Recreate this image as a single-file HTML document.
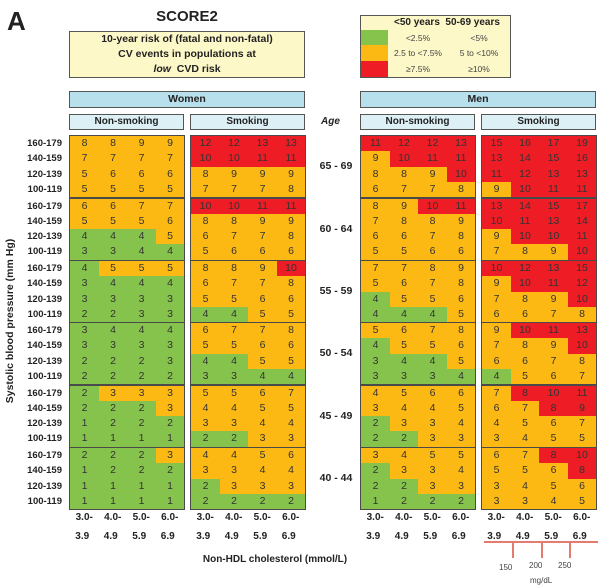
<!DOCTYPE html>
<html><head><meta charset="utf-8">
<style>
body{margin:0;background:#fff;}
#c{position:relative;width:600px;height:586px;overflow:hidden;font-family:"Liberation Sans",sans-serif;color:#222;}
.a{position:absolute;}
.box{position:absolute;box-sizing:border-box;border:1.5px solid #555;}
.t{position:absolute;font-weight:bold;font-size:10px;text-align:center;}
</style></head><body>
<div id="c">
<div class="a" style="left:7px;top:6px;font-size:26px;font-weight:bold;">A</div>
<div class="a" style="left:130px;top:8px;width:114px;text-align:center;font-size:15px;font-weight:bold;">SCORE2</div>
<div class="box" style="left:69px;top:31px;width:236px;height:47px;background:#fdf8c8;font-size:10.5px;font-weight:bold;text-align:center;line-height:15px;padding-top:0px;">10-year risk of (fatal and non-fatal)<br>CV events in populations at<br><i>low</i>&nbsp; CVD risk</div>
<div class="box" style="left:360px;top:15px;width:151px;height:63px;background:#fdf8c8;"></div>
<div class="a" style="left:361px;top:30px;width:27px;height:15px;background:#86c34c"></div>
<div class="a" style="left:361px;top:45px;width:27px;height:16px;background:#fdb913"></div>
<div class="a" style="left:361px;top:61px;width:27px;height:16px;background:#ee1c25"></div>
<div class="a" style="left:394px;top:17px;font-size:10px;font-weight:bold;">&lt;50 years&nbsp; 50-69 years</div>
<div class="a" style="left:389px;top:33px;width:58px;text-align:center;font-size:8.5px;color:#444">&lt;2.5%</div>
<div class="a" style="left:448px;top:33px;width:62px;text-align:center;font-size:8.5px;color:#444">&lt;5%</div>
<div class="a" style="left:389px;top:48px;width:58px;text-align:center;font-size:8.5px;color:#444">2.5 to &lt;7.5%</div>
<div class="a" style="left:448px;top:48px;width:62px;text-align:center;font-size:8.5px;color:#444">5 to &lt;10%</div>
<div class="a" style="left:389px;top:64px;width:58px;text-align:center;font-size:8.5px;color:#444">≥7.5%</div>
<div class="a" style="left:448px;top:64px;width:62px;text-align:center;font-size:8.5px;color:#444">≥10%</div>

<div class="box" style="left:69px;top:91px;width:236px;height:17px;background:#b8e0ec;font-size:10.5px;font-weight:bold;text-align:center;line-height:14px;">Women</div>
<div class="box" style="left:360px;top:91px;width:236px;height:17px;background:#b8e0ec;font-size:10.5px;font-weight:bold;text-align:center;line-height:14px;">Men</div>
<div class="box" style="left:69px;top:114px;width:115px;height:16px;background:#dcf0f6;font-size:10px;font-weight:bold;text-align:center;line-height:13px;">Non-smoking</div>
<div class="box" style="left:190px;top:114px;width:115px;height:16px;background:#dcf0f6;font-size:10px;font-weight:bold;text-align:center;line-height:13px;">Smoking</div>
<div class="box" style="left:360px;top:114px;width:115px;height:16px;background:#dcf0f6;font-size:10px;font-weight:bold;text-align:center;line-height:13px;">Non-smoking</div>
<div class="box" style="left:481px;top:114px;width:115px;height:16px;background:#dcf0f6;font-size:10px;font-weight:bold;text-align:center;line-height:13px;">Smoking</div>
<div class="a" style="left:321px;top:116px;font-size:10px;font-weight:bold;font-style:italic;">Age</div>
<div class="a" style="left:-80px;top:315px;width:180px;text-align:center;transform:rotate(-90deg);font-size:10.5px;font-weight:bold;">Systolic blood pressure (mm Hg)</div>
<div class="a" style="left:160px;top:554px;width:230px;text-align:center;font-size:10px;font-weight:bold;">Non-HDL cholesterol (mmol/L)</div>
<div class="a" style="left:484px;top:541px;width:114px;height:1.5px;background:#e57b6e"></div>
<div class="a" style="left:512px;top:541px;width:1.5px;height:17px;background:#e57b6e"></div>
<div class="a" style="left:541px;top:541px;width:1.5px;height:17px;background:#e57b6e"></div>
<div class="a" style="left:569px;top:541px;width:1.5px;height:17px;background:#e57b6e"></div>
<div class="a" style="left:499px;top:563px;font-size:8px;color:#444">150</div>
<div class="a" style="left:529px;top:561px;font-size:8px;color:#444">200</div>
<div class="a" style="left:558px;top:561px;font-size:8px;color:#444">250</div>
<div class="a" style="left:530px;top:576px;font-size:8px;color:#444">mg/dL</div>
</div>
<script>
var D={
WN:[[[8,8,9,9],[7,7,7,7],[5,6,6,6],[5,5,5,5]],[[6,6,7,7],[5,5,5,6],[4,4,4,5],[3,3,4,4]],[[4,5,5,5],[3,4,4,4],[3,3,3,3],[2,2,3,3]],[[3,4,4,4],[3,3,3,3],[2,2,2,3],[2,2,2,2]],[[2,3,3,3],[2,2,2,3],[1,2,2,2],[1,1,1,1]],[[2,2,2,3],[1,2,2,2],[1,1,1,1],[1,1,1,1]]],
WS:[[[12,12,13,13],[10,10,11,11],[8,9,9,9],[7,7,7,8]],[[10,10,11,11],[8,8,9,9],[6,7,7,8],[5,6,6,6]],[[8,8,9,10],[6,7,7,8],[5,5,6,6],[4,4,5,5]],[[6,7,7,8],[5,5,6,6],[4,4,5,5],[3,3,4,4]],[[5,5,6,7],[4,4,5,5],[3,3,4,4],[2,2,3,3]],[[4,4,5,6],[3,3,4,4],[2,3,3,3],[2,2,2,2]]],
MN:[[[11,12,12,13],[9,10,11,11],[8,8,9,10],[6,7,7,8]],[[8,9,10,11],[7,8,8,9],[6,6,7,8],[5,5,6,6]],[[7,7,8,9],[5,6,7,8],[4,5,5,6],[4,4,4,5]],[[5,6,7,8],[4,5,5,6],[3,4,4,5],[3,3,3,4]],[[4,5,6,6],[3,4,4,5],[2,3,3,4],[2,2,3,3]],[[3,4,5,5],[2,3,3,4],[2,2,3,3],[1,2,2,2]]],
MS:[[[15,16,17,19],[13,14,15,16],[11,12,13,13],[9,10,11,11]],[[13,14,15,17],[10,11,13,14],[9,10,10,11],[7,8,9,10]],[[10,12,13,15],[9,10,11,12],[7,8,9,10],[6,6,7,8]],[[9,10,11,13],[7,8,9,10],[6,6,7,8],[4,5,6,7]],[[7,8,10,11],[6,7,8,9],[4,5,6,7],[3,4,5,5]],[[6,7,8,10],[5,5,6,8],[3,4,5,6],[3,3,4,5]]]};
var P={WN:70,WS:191,MN:361,MS:482},W=114;
var tops=[136,198.5,261,323,385.5,448],gh=61,rh=gh/4;
var ages=["65 - 69","60 - 64","55 - 59","50 - 54","45 - 49","40 - 44"];
var bps=["160-179","140-159","120-139","100-119"];
var h="";
function col(v,g){var old=g<4;if(old){return v<=4?"#86c34c":v<=9?"#fdb913":"#ee1c25";}return v<=2?"#86c34c":v<=7?"#fdb913":"#ee1c25";}
for(var g=0;g<6;g++){var T=tops[g];
 h+='<div class="t" style="left:312px;top:'+(T+24)+'px;width:48px;font-size:10.5px">'+ages[g]+'</div>';
 for(var r=0;r<4;r++)h+='<div class="t" style="left:0;top:'+(T+r*rh+2)+'px;width:62px;text-align:right;font-size:9.5px">'+bps[r]+'</div>';
 for(var k in P){var x=P[k];
  for(var r=0;r<4;r++)for(var c=0;c<4;c++){var v=D[k][g][r][c];
   h+='<div class="a" style="left:'+(x+c*W/4)+'px;top:'+(T+r*rh)+'px;width:'+(W/4+0.5)+'px;height:'+(rh+0.5)+'px;background:'+col(v,g)+';font-size:10.5px;text-align:center;line-height:'+rh+'px;color:#333">'+v+'</div>';}
  h+='<div class="box" style="left:'+(x-1)+'px;top:'+(T-1)+'px;width:'+(W+2)+'px;height:'+(gh+2)+'px;border-color:#4a4a4a"></div>';
 }}
for(var k in P){var x=P[k];for(var c=0;c<4;c++){var a=(3+c)+".0-",b=(3+c)+".9";
 h+='<div class="t" style="left:'+(x+c*W/4)+'px;top:512px;width:'+(W/4)+'px">'+a+'</div>';
 h+='<div class="t" style="left:'+(x+c*W/4-2)+'px;top:531px;width:'+(W/4)+'px">'+b+'</div>';}}
document.getElementById("c").insertAdjacentHTML("beforeend",h);
</script>
</body></html>
